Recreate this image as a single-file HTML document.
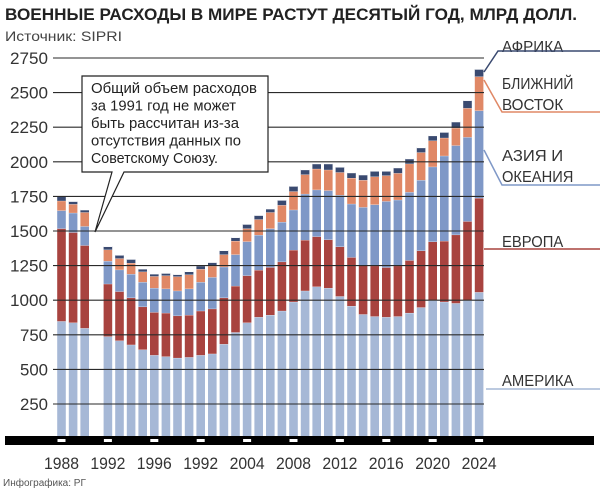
<!DOCTYPE html>
<html><head><meta charset="utf-8"><style>
html,body{margin:0;padding:0;background:#fff;}
svg{display:block;font-family:"Liberation Sans Narrow","Liberation Sans",sans-serif;}
</style></head><body>
<svg id="c" width="600" height="489" viewBox="0 0 600 489" xmlns="http://www.w3.org/2000/svg">
<text x="5" y="20" font-size="17" font-weight="bold" fill="#222" textLength="572" lengthAdjust="spacingAndGlyphs">ВОЕННЫЕ РАСХОДЫ В МИРЕ РАСТУТ ДЕСЯТЫЙ ГОД, МЛРД ДОЛЛ.</text>
<text x="5" y="41" font-size="14" fill="#444" textLength="117" lengthAdjust="spacingAndGlyphs">Источник: SIPRI</text>
<text x="3" y="486" font-size="10" fill="#555">Инфографика: РГ</text>
<g id="bars"></g>
<g id="grid"></g>
</svg>
<script>
var ns="http://www.w3.org/2000/svg",svg=document.getElementById('c');
function el(t,a,p,txt){var e=document.createElementNS(ns,t);for(var k in a)e.setAttribute(k,a[k]);if(txt!=null)e.textContent=txt;(p||svg).appendChild(e);return e;}
var Z=438.6,S=34.6/250;
function Y(v){return Z-v*S;}
var d=[
[0,850,1520,1650,1720,1750],[1,840,1492,1633,1696,1715],[2,800,1398,1536,1637,1654],
[4,740,1120,1285,1367,1389],[5,710,1065,1222,1304,1327],[6,680,1020,1191,1271,1297],
[7,645,955,1133,1208,1227],[8,605,915,1090,1175,1191],[9,595,910,1085,1180,1196],
[10,585,890,1070,1173,1187],[11,590,895,1085,1187,1208],[12,605,925,1133,1227,1250],
[13,615,940,1168,1250,1274],[14,685,1020,1243,1332,1360],[15,770,1105,1332,1430,1454],
[16,840,1180,1426,1520,1550],[17,880,1220,1473,1586,1614],[18,895,1240,1520,1637,1661],
[19,925,1280,1567,1689,1724],[20,990,1365,1655,1788,1825],[21,1070,1437,1770,1910,1944],
[22,1100,1462,1800,1951,1987],[23,1090,1440,1795,1944,1987],[24,1030,1389,1762,1926,1963],
[25,960,1312,1698,1885,1922],[26,900,1256,1674,1870,1907],[27,885,1251,1693,1895,1934],
[28,880,1239,1717,1903,1934],[29,885,1251,1727,1920,1958],[30,910,1290,1783,1988,2023],
[31,950,1360,1870,2070,2103],[32,1000,1425,1966,2155,2190],[33,990,1430,2045,2175,2215],
[34,980,1475,2120,2247,2290],[35,1000,1572,2180,2390,2444],[36,1060,1740,2372,2618,2670]];
var cols=["#a6b8d6","#a8433f","#7f98c7","#e08866","#3a4a70"];
var bg=document.getElementById('bars');
d.forEach(function(r){var cx=61.5+r[0]*11.6,x=cx-4.3,prev=0;
 for(var i=1;i<=5;i++){var top=r[i];el('rect',{x:x,y:Y(top),width:8.6,height:Y(prev)-Y(top)+0.3,fill:cols[i-1]},bg);
  el('rect',{x:x,y:Y(top)-0.6,width:8.6,height:1.2,fill:"#fff"},bg);prev=top;}});
var g=document.getElementById('grid');
for(var v=250;v<=2750;v+=250){var y=Y(v);el('line',{x1:53,y1:y,x2:484,y2:y,stroke:"#2a2a2a","stroke-width":1.1},g);
 el('text',{x:48,y:y+6,"font-size":17,fill:"#333","text-anchor":"end",textLength:v>=1000?38:28,lengthAdjust:"spacingAndGlyphs"},g,String(v));}
el('rect',{x:5,y:436,width:589,height:9,fill:"#000"});
var labs=["1988","1992","1996","1992","2004","2008","2012","2016","2020","2024"];
labs.forEach(function(l,i){var cx=61.5+i*4*11.6;el('rect',{x:cx-4,y:439,width:8,height:3,fill:"#fff"});
 el('text',{x:cx,y:469,"font-size":17,fill:"#333","text-anchor":"middle",textLength:35,lengthAdjust:"spacingAndGlyphs"},null,l);});
el('path',{d:"M82,76 H268 V172 H124 L95,232 L112,172 H82 Z",fill:"#fff",stroke:"#222","stroke-width":1.2});
["Общий объем расходов","за 1991 год не может","быть рассчитан из-за","отсутствия данных по","Советскому Союзу."].forEach(function(t,i){
 el('text',{x:91,y:93+i*17.5,"font-size":14.5,fill:"#222",textLength:[166,145,148,150,127][i],lengthAdjust:"spacingAndGlyphs"},null,t);});
function leg(lines,ty,ly,color,bx,by,sx){lines.forEach(function(t,i){el('text',{x:502,y:ty+i*21,"font-size":16,fill:"#333",textLength:t.length*10.2,lengthAdjust:"spacingAndGlyphs"},null,t);});
 el('polyline',{points:bx+","+by+" "+sx+","+ly+" 600,"+ly,fill:"none",stroke:color,"stroke-width":1.5});}
leg(["АФРИКА"],52,51,"#3a4a70",484,72,498);
leg(["БЛИЖНИЙ","ВОСТОК"],89,112,"#e08866",484,80,502);
leg(["АЗИЯ И","ОКЕАНИЯ"],161,185,"#7f98c7",484,150,502);
leg(["ЕВРОПА"],247,249,"#a8433f",484,249,484);
leg(["АМЕРИКА"],386,389,"#a6b8d6",486,389,486);
</script>
</body></html>
